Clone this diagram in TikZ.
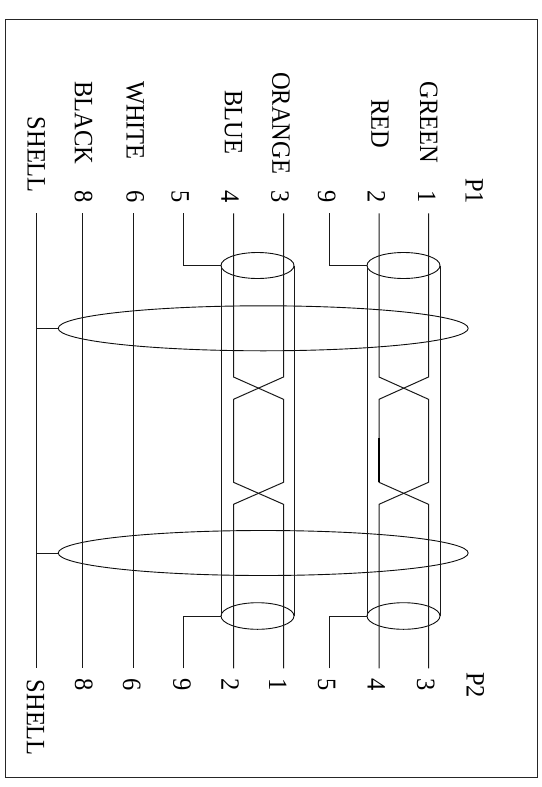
\documentclass[tikz,border=0pt]{standalone}
\usepackage{fontspec}
\usepackage{graphicx}
\setmainfont{Liberation Serif}
\usetikzlibrary{shapes.geometric}
\newcommand{\stretched}[1]{\scalebox{1}[1.08]{#1}}
\tikzset{
  wire/.style={line width=1pt,black!90},
  heavy/.style={line width=1.5pt,black},
  frameline/.style={line width=1pt,black!85},
  shield/.style={ellipse,draw,line width=0.9pt,black!95,inner sep=0,outer sep=0},
  lab/.style={rotate=-90,anchor=base west,inner sep=0,outer sep=0,font=\fontsize{24.5}{24.5}\selectfont,text=black}
}
\begin{document}
\begin{tikzpicture}[x=1pt,y=-1pt]
\useasboundingbox (0,0) rectangle (541,787);
\draw[frameline] (5.5,19.5) rectangle (537.5,777.5);
% labels left
\node[lab] (lgreen) at (420,81.7) {\stretched{GREEN}};
\node[lab] (lred) at (371.4,99) {\stretched{RED}};
\node[lab] (lorange) at (272.4,72) {\stretched{ORANGE}};
\node[lab] (lblue) at (224.8,90) {\stretched{BLUE}};
\node[lab] (lwhite) at (126.6,81) {\stretched{WHITE}};
\node[lab] (lblack) at (74.8,81) {\stretched{BLACK}};
\node[lab] (lshell) at (27.6,116.7) {\stretched{SHELL}};
\node[lab] (pone) at (465.5,178) {\stretched{P1}};
\node[lab] (ta) at (418,190.7) {\stretched{1}};
\node[lab] (tb) at (367.6,190.7) {\stretched{2}};
\node[lab] (tc) at (318,190.7) {\stretched{9}};
\node[lab] (td) at (271.4,190.7) {\stretched{3}};
\node[lab] (te) at (221.4,190.7) {\stretched{4}};
\node[lab] (tf) at (171.7,190.7) {\stretched{5}};
\node[lab] (tg) at (126.6,190.7) {\stretched{6}};
\node[lab] (th) at (74.8,190.7) {\stretched{8}};
\node[lab] (ptwo) at (466.7,672) {\stretched{P2}};
\node[lab] (ba) at (417,678) {\stretched{3}};
\node[lab] (bb) at (367.6,678) {\stretched{4}};
\node[lab] (bc) at (318,678) {\stretched{5}};
\node[lab] (bd) at (269,678) {\stretched{1}};
\node[lab] (be) at (221.4,678) {\stretched{2}};
\node[lab] (bf) at (173.4,678) {\stretched{9}};
\node[lab] (bg) at (123,678) {\stretched{6}};
\node[lab] (bh) at (75,678) {\stretched{8}};
\node[lab] (rshell) at (27,679.7) {\stretched{SHELL}};
% shields
\node[shield,minimum width=73pt,minimum height=26pt] (st1) at (257.5,265.5) {};
\node[shield,minimum width=73pt,minimum height=26pt] (st2) at (403.5,265.5) {};
\node[shield,minimum width=73pt,minimum height=26.6pt] (sb1) at (257.5,616) {};
\node[shield,minimum width=73pt,minimum height=26.6pt] (sb2) at (403.5,616) {};
\node[shield,minimum width=410pt,minimum height=45pt] (big1) at (263.2,328.3) {};
\node[shield,minimum width=410pt,minimum height=45pt] (big2) at (263.2,553) {};
% cylinder sides
\draw[wire] (st1.west) -- (sb1.west);
\draw[wire] (st1.east) -- (sb1.east);
\draw[wire] (st2.west) -- (sb2.west);
\draw[wire] (st2.east) -- (sb2.east);
% end coordinates
\foreach \n/\x in {s/36.5,k/82,w/133,f/183.5,b/233.5,o/283.5,n/329.5,r/379,g/428.5}{
  \coordinate (\n0) at (\x,213.3);
  \coordinate (\n1) at (\x,668.3);
}
% straight wires
\draw[wire] (s0) -- (s1);
\draw[wire] (k0) -- (k1);
\draw[wire] (w0) -- (w1);
\draw[wire] (big1.west) -- (big1.west -| s0);
\draw[wire] (big2.west) -- (big2.west -| s0);
% drain stubs
\draw[wire] (f0) |- (st1.west);
\draw[wire] (n0) |- (st2.west);
\draw[wire] (f1) |- (sb1.west);
\draw[wire] (n1) |- (sb2.west);
% twisted pairs
\draw[wire] (b0) -- (233.5,377) -- (283.5,399.3) -- (283.5,482.3) -- (233.5,504.3) -- (b1);
\draw[wire] (o0) -- (283.5,377) -- (233.5,399.3) -- (233.5,482.3) -- (283.5,504.3) -- (o1);
\draw[wire] (r0) -- (379,377) -- (428.5,399.3) -- (428.5,482.3) -- (379,504.3) -- (r1);
\draw[wire] (g0) -- (428.5,377) -- (379,399.3) -- (379,482.3) -- (428.5,504.3) -- (g1);
\draw[heavy] (379,438) -- (379,482.3);
\end{tikzpicture}
\end{document}
